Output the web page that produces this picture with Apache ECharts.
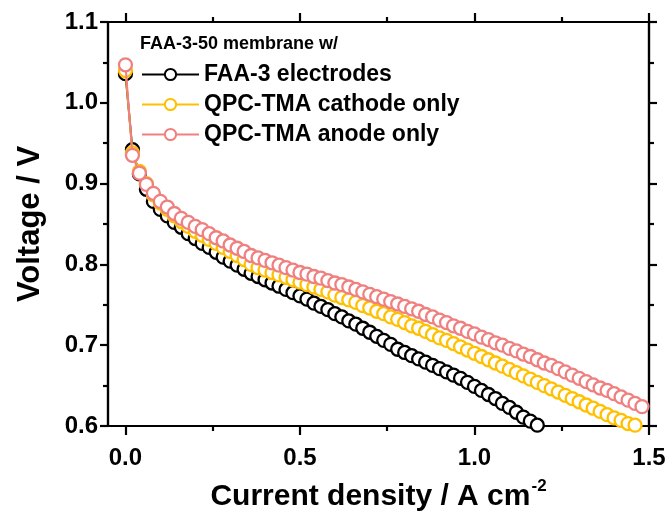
<!DOCTYPE html>
<html>
<head>
<meta charset="utf-8">
<script src="https://cdn.jsdelivr.net/npm/echarts@6/dist/echarts.min.js"></script>
<style>html,body{margin:0;padding:0;background:#fff;}#chart{width:670px;height:518px;}</style>
</head>
<body>
<div id="chart"></div>
<script>
// Current density (A cm^-2)
const current = [0,0.02,0.04,0.06,0.08,0.10,0.12,0.14,0.16,0.18,0.20,0.22,0.24,0.26,0.28,0.30,0.32,0.34,0.36,0.38,
  0.40,0.42,0.44,0.46,0.48,0.50,0.52,0.54,0.56,0.58,0.60,0.62,0.64,0.66,0.68,0.70,0.72,0.74,0.76,0.78,
  0.80,0.82,0.84,0.86,0.88,0.90,0.92,0.94,0.96,0.98,1.00,1.02,1.04,1.06,1.08,1.10,1.12,1.14,1.16,1.18,
  1.20,1.22,1.24,1.26,1.28,1.30,1.32,1.34,1.36,1.38,1.40,1.42,1.44,1.46,1.48];

const faa3Electrodes = [1.036,0.942,0.912,0.893,0.878,0.868,0.860,0.852,0.846,0.838,0.832,0.826,0.821,0.815,0.809,0.804,0.799,0.794,0.789,0.785,
  0.781,0.777,0.773,0.769,0.765,0.761,0.757,0.752,0.748,0.744,0.739,0.735,0.730,0.726,0.721,0.716,0.711,0.706,0.701,0.695,
  0.691,0.687,0.683,0.679,0.675,0.671,0.667,0.663,0.659,0.654,0.649,0.644,0.639,0.634,0.628,0.623,0.617,0.611,0.606,0.601];

const qpcCathodeOnly = [1.040,0.938,0.915,0.900,0.886,0.876,0.868,0.860,0.853,0.847,0.841,0.836,0.831,0.826,0.821,0.816,0.811,0.806,0.800,0.796,
  0.793,0.790,0.787,0.784,0.781,0.778,0.775,0.772,0.769,0.766,0.762,0.759,0.756,0.753,0.749,0.746,0.742,0.739,0.735,0.732,
  0.728,0.724,0.721,0.717,0.713,0.709,0.706,0.702,0.698,0.694,0.690,0.686,0.682,0.678,0.674,0.670,0.666,0.662,0.658,0.654,
  0.650,0.646,0.642,0.638,0.634,0.630,0.626,0.622,0.618,0.614,0.610,0.607,0.603,0.601];

const qpcAnodeOnly = [1.047,0.935,0.913,0.899,0.888,0.878,0.871,0.863,0.857,0.852,0.847,0.843,0.838,0.833,0.829,0.824,0.820,0.816,0.811,0.808,
  0.805,0.802,0.799,0.796,0.793,0.790,0.788,0.785,0.783,0.780,0.777,0.775,0.772,0.769,0.766,0.763,0.760,0.757,0.754,0.751,
  0.748,0.745,0.742,0.738,0.735,0.731,0.728,0.724,0.721,0.717,0.714,0.710,0.707,0.703,0.700,0.696,0.693,0.689,0.686,0.682,
  0.678,0.675,0.671,0.667,0.663,0.659,0.655,0.651,0.647,0.644,0.640,0.636,0.632,0.628,0.624];

const seriesNames = ['FAA-3 electrodes','QPC-TMA cathode only','QPC-TMA anode only'];
const seriesColors = ['#000000','#FFC000','#F08080'];
const legendTitle = 'FAA-3-50 membrane w/';
const xMajorTicks = [0, 0.5, 1.0, 1.5];
const xMinorTicks = [0.25, 0.75, 1.25];
const xRange = [-0.05, 1.5];
const yRange = [0.6, 1.1];
const yInterval = 0.1;

const FONT = '"Liberation Sans", Arial, sans-serif';
const chart = echarts.init(document.getElementById('chart'), null, {renderer: 'canvas'});

function pairs(ys) { return ys.map((v, i) => [current[i], v]); }

const gridRect = {left: 108, right: 21, top: 22, bottom: 92};
const lineW = 2.2;

function xAx(grid, pos, ticks, len, labels, extra) {
  return Object.assign({
    type: 'value', gridIndex: grid, position: pos, min: xRange[0], max: xRange[1],
    axisLine: {show: true, onZero: false, lineStyle: {color: '#000', width: lineW}},
    axisTick: {show: true, inside: false, length: len, customValues: ticks, lineStyle: {color: '#000', width: lineW}},
    axisLabel: labels ? {show: true, customValues: ticks, formatter: v => v.toFixed(1), color: '#000', fontSize: 24, fontWeight: 'bold', fontFamily: FONT, margin: 20} : {show: false},
    splitLine: {show: false}
  }, extra || {});
}
function yAx(grid, pos, labels, extra) {
  return Object.assign({
    type: 'value', gridIndex: grid, position: pos, min: yRange[0], max: yRange[1], interval: yInterval,
    axisLine: {show: true, onZero: false, lineStyle: {color: '#000', width: lineW}},
    axisTick: {show: true, inside: false, length: 8, lineStyle: {color: '#000', width: lineW}},
    minorTick: {show: true, splitNumber: 2, length: 5, lineStyle: {color: '#000', width: lineW}},
    axisLabel: labels ? {show: true, formatter: v => v.toFixed(1), color: '#000', fontSize: 24, fontWeight: 'bold', fontFamily: FONT, margin: 10} : {show: false},
    splitLine: {show: false}
  }, extra || {});
}

const option = {
  animation: false,
  backgroundColor: '#fff',
  grid: [Object.assign({}, gridRect), Object.assign({}, gridRect)],
  xAxis: [
    xAx(0, 'bottom', xMajorTicks, 9, true, {
      name: '{a|Current density / A cm}{s|-2}', nameLocation: 'middle', nameGap: 52,
      nameTextStyle: {rich: {
        a: {fontSize: 30, fontWeight: 'bold', fontFamily: FONT, color: '#000'},
        s: {fontSize: 17, fontWeight: 'bold', fontFamily: FONT, color: '#000', verticalAlign: 'top', padding: [0, 0, 20, 1]}
      }}
    }),
    xAx(0, 'top', xMajorTicks, 9, false),
    xAx(1, 'bottom', xMinorTicks, 5, false),
    xAx(1, 'top', xMinorTicks, 5, false)
  ],
  yAxis: [
    yAx(0, 'left', true, {
      name: 'Voltage / V', nameLocation: 'middle', nameRotate: 90, nameGap: 62,
      nameTextStyle: {fontSize: 31, fontWeight: 'bold', fontFamily: FONT, color: '#000'}
    }),
    yAx(0, 'right', false),
    yAx(1, 'left', false, {axisTick: {show: false}, minorTick: {show: false}}),
    yAx(1, 'right', false, {axisTick: {show: false}, minorTick: {show: false}})
  ],
  legend: {
    orient: 'vertical', left: 141, top: 63, itemGap: 7, padding: 0,
    itemWidth: 57, itemHeight: 14,
    data: seriesNames,
    textStyle: {fontSize: 23, fontWeight: 'bold', fontFamily: FONT, color: '#000'}
  },
  graphic: [{
    type: 'text', left: 140, top: 35,
    style: {text: legendTitle, fontSize: 18, fontWeight: 'bold', fontFamily: FONT, fill: '#000'}
  }],
  series: [faa3Electrodes, qpcCathodeOnly, qpcAnodeOnly].map((ys, i) => ({
    type: 'line', name: seriesNames[i], xAxisIndex: 0, yAxisIndex: 0,
    data: pairs(ys),
    symbol: 'circle', symbolSize: 13, showAllSymbol: true,
    lineStyle: {color: seriesColors[i], width: 2},
    itemStyle: {color: '#fff', borderColor: seriesColors[i], borderWidth: 2.3},
    emphasis: {disabled: true},
    z: 2 + i
  }))
};
chart.setOption(option);
</script>
</body>
</html>
